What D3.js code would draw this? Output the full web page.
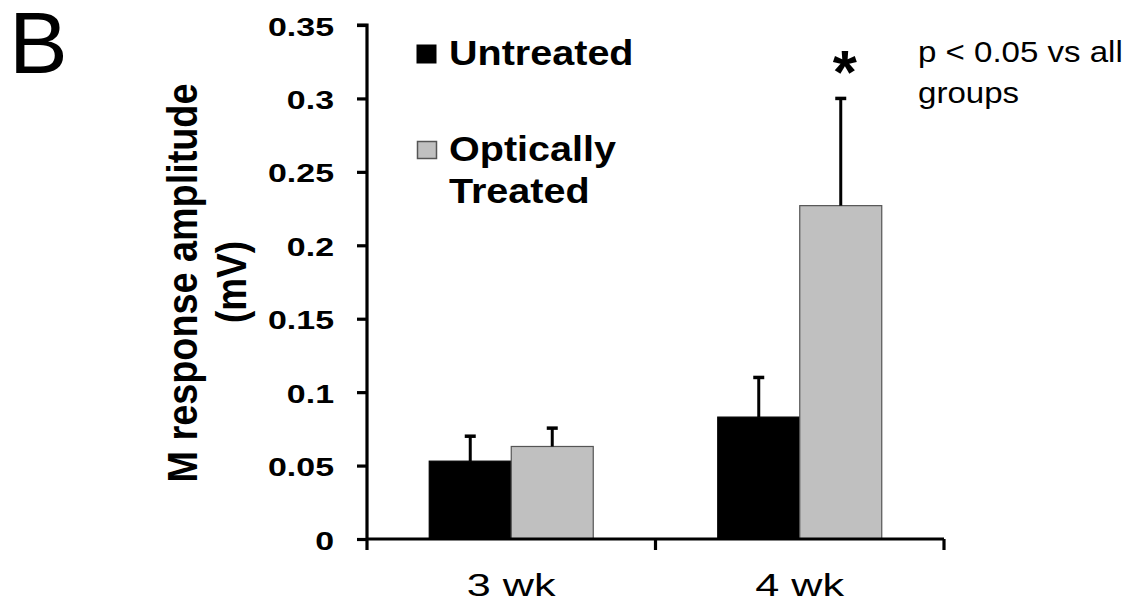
<!DOCTYPE html>
<html><head><meta charset="utf-8">
<script src="https://cdn.jsdelivr.net/npm/d3@7"></script>
<style>body{margin:0;background:#fff;overflow:hidden}svg{display:block}</style>
</head><body>
<svg id="c" width="1135" height="608"></svg>
<script>
const categories = ["3 wk", "4 wk"];
const seriesNames = ["Untreated", "Optically Treated"];
const untreated = [0.053, 0.083];
const untreatedErr = [0.017, 0.027];
const treated = [0.063, 0.227];
const treatedErr = [0.0125, 0.073];
const yTicks = [0, 0.05, 0.1, 0.15, 0.2, 0.25, 0.3, 0.35];
const yTickLabels = ["0", "0.05", "0.1", "0.15", "0.2", "0.25", "0.3", "0.35"];
const yTitle = ["M response amplitude", "(mV)"];
const panelLabel = "B";
const annotation = ["p < 0.05 vs all", "groups"];

const FONT = "'Liberation Sans', Arial, Helvetica, sans-serif";
const svg = d3.select("#c");
const x0 = d3.scaleBand().domain(categories).range([367, 944]).padding(0);
const bw = x0.bandwidth();
const x1 = d3.scaleBand().domain(seriesNames).range([bw / 2 - 82, bw / 2 + 82]).padding(0);
const y = d3.scaleLinear().domain([0, 0.35]).range([539, 25]);

const data = categories.map((c, i) => ({
  cat: c,
  vals: [
    {s: seriesNames[0], v: untreated[i], e: untreatedErr[i], fill: "#000", stroke: "#000"},
    {s: seriesNames[1], v: treated[i], e: treatedErr[i], fill: "#c0c0c0", stroke: "#555"}
  ]
}));

function htext(g, str, x, yy, size, weight, sx, anchor) {
  return g.append("text").attr("transform", `translate(${x},${yy}) scale(${sx},1)`)
    .attr("text-anchor", anchor || "start").attr("font-family", FONT)
    .attr("font-size", size).attr("font-weight", weight).attr("fill", "#000").text(str);
}

// bars
const groups = svg.append("g").selectAll("g").data(data).join("g")
  .attr("transform", d => `translate(${x0(d.cat)},0)`);
groups.selectAll("rect").data(d => d.vals).join("rect")
  .attr("x", d => x1(d.s)).attr("width", x1.bandwidth())
  .attr("y", d => y(d.v)).attr("height", d => y(0) - y(d.v))
  .attr("fill", d => d.fill).attr("stroke", d => d.stroke).attr("stroke-width", 1.2);
// error bars (upper only)
groups.selectAll("line.err").data(d => d.vals).join("line").attr("class", "err")
  .attr("x1", d => x1(d.s) + x1.bandwidth() / 2).attr("x2", d => x1(d.s) + x1.bandwidth() / 2)
  .attr("y1", d => y(d.v)).attr("y2", d => y(d.v + d.e))
  .attr("stroke", "#000").attr("stroke-width", 3);
groups.selectAll("line.cap").data(d => d.vals).join("line").attr("class", "cap")
  .attr("x1", d => x1(d.s) + x1.bandwidth() / 2 - 5.5).attr("x2", d => x1(d.s) + x1.bandwidth() / 2 + 5.5)
  .attr("y1", d => y(d.v + d.e)).attr("y2", d => y(d.v + d.e))
  .attr("stroke", "#000").attr("stroke-width", 3.5);

// y axis
const yAxis = svg.append("g").attr("transform", "translate(367,0)")
  .call(d3.axisLeft(y).tickValues(yTicks).tickSize(10).tickFormat(() => ""));
yAxis.selectAll("path,line").attr("stroke", "#000").attr("stroke-width", 3.2);
yAxis.select("path").attr("d", `M-10,${y(0.35)}H0V${y(0)}`);
yTicks.forEach((t, i) => {
  htext(svg, yTickLabels[i], 334, y(t) + 10.5, 26.5, "bold", 1.28, "end");
});

// x axis
const xAxis = svg.append("g").attr("transform", `translate(0,${y(0)})`)
  .call(d3.axisBottom(x0).tickSize(0).tickFormat(() => ""));
xAxis.selectAll("path,line").attr("stroke", "#000").attr("stroke-width", 3.2);
xAxis.select("path").attr("d", "M367,0H944");
const bounds = [x0.range()[0]].concat(categories.map(c => x0(c) + bw));
svg.append("g").selectAll("line").data(bounds).join("line")
  .attr("x1", d => d).attr("x2", d => d).attr("y1", y(0)).attr("y2", y(0) + 11)
  .attr("stroke", "#000").attr("stroke-width", 3.2);
categories.forEach(c => {
  htext(svg, c, x0(c) + bw / 2, 596, 32, "normal", 1.35, "middle");
});

// y title
svg.append("text").attr("transform", `translate(197,${(y(0) + y(0.35)) / 2 + 1}) rotate(-90) scale(0.9,1)`)
  .attr("text-anchor", "middle").attr("font-family", FONT).attr("font-size", 42)
  .attr("font-weight", "bold").text(yTitle[0]);
svg.append("text").attr("transform", `translate(246,${(y(0) + y(0.35)) / 2}) rotate(-90) scale(0.88,1)`)
  .attr("text-anchor", "middle").attr("font-family", FONT).attr("font-size", 42)
  .attr("font-weight", "bold").text(yTitle[1]);

// panel label
svg.append("text").attr("x", 9).attr("y", 73).attr("font-family", FONT)
  .attr("font-size", 88).attr("font-weight", "normal").text(panelLabel);

// legend
svg.append("rect").attr("x", 417).attr("y", 45).attr("width", 19).attr("height", 18)
  .attr("fill", "#000").attr("stroke", "#000");
htext(svg, "Untreated", 449, 65, 35, "bold", 1.13);
svg.append("rect").attr("x", 417.5).attr("y", 141.5).attr("width", 19).attr("height", 17)
  .attr("fill", "#c0c0c0").attr("stroke", "#555").attr("stroke-width", 1.5);
htext(svg, "Optically", 449, 161, 35, "bold", 1.13);
htext(svg, "Treated", 449, 203, 35, "bold", 1.13);

// significance
htext(svg, "*", x0("4 wk") + bw / 2 + x1.bandwidth() / 2 + 4, 93, 62, "bold", 1, "middle");
htext(svg, annotation[0], 918, 62, 29, "normal", 1.14);
htext(svg, annotation[1], 918, 103, 29, "normal", 1.14);
</script>
</body></html>
